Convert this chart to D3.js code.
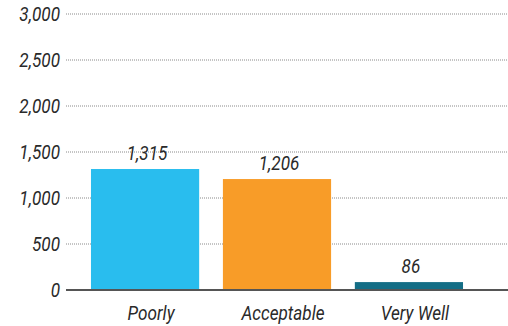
<!DOCTYPE html>
<html>
<head>
<meta charset="utf-8">
<script src="https://cdn.jsdelivr.net/npm/d3@7"></script>
<style>
  html, body { margin: 0; padding: 0; background: #fff; }
  text { font-family: Roboto, "Liberation Sans", sans-serif; font-style: italic; fill: #2a2a2a; font-size: 19.5px; }
</style>
</head>
<body>
<svg id="chart" width="508" height="326"></svg>
<script>
const categories = ["Poorly", "Acceptable", "Very Well"];
const values = [1315, 1206, 86];
const colors = ["#29bdee", "#f89c28", "#146e86"];
const yTicks = [0, 500, 1000, 1500, 2000, 2500, 3000];

const svg = d3.select("#chart");
const W = 508;
const SX = 0.88; // horizontal squeeze for a condensed look

const y = d3.scaleLinear().domain([0, 3000]).range([290, 14]);
const x = d3.scaleBand().domain(categories).range([58, 496]).paddingInner(0.18).paddingOuter(0.25);
const fmt = d3.format(",");

// place a squeezed text label at (px, py)
function label(g, px, py) {
  return g.append("g")
    .attr("transform", `translate(${px},${py}) scale(${SX},1)`)
    .append("text");
}

// dotted gridlines
svg.append("g").selectAll("line")
  .data(yTicks.filter(d => d > 0))
  .join("line")
  .attr("x1", 66).attr("x2", W)
  .attr("y1", d => y(d)).attr("y2", d => y(d))
  .attr("stroke", "#8a8a8a")
  .attr("stroke-width", 1)
  .attr("stroke-dasharray", "1,1");

// y tick labels
const gy = svg.append("g");
yTicks.forEach(d => {
  label(gy, 60, y(d))
    .attr("dy", "0.36em")
    .attr("text-anchor", "end")
    .text(fmt(d));
});

// bars
svg.append("g").selectAll("rect")
  .data(values)
  .join("rect")
  .attr("x", (d, i) => x(categories[i]))
  .attr("width", x.bandwidth())
  .attr("y", d => y(d))
  .attr("height", d => y(0) - y(d))
  .attr("fill", (d, i) => colors[i]);

// baseline
svg.append("line")
  .attr("x1", 66).attr("x2", W)
  .attr("y1", y(0)).attr("y2", y(0))
  .attr("stroke", "#555")
  .attr("stroke-width", 2);

// value labels
const gv = svg.append("g");
values.forEach((d, i) => {
  label(gv, x(categories[i]) + x.bandwidth() / 2 + 2, y(d) - 9)
    .attr("text-anchor", "middle")
    .text(fmt(d));
});

// category labels
const gc = svg.append("g");
categories.forEach(d => {
  label(gc, x(d) + x.bandwidth() / 2 + 6, 320)
    .attr("text-anchor", "middle")
    .text(d);
});
</script>
</body>
</html>
